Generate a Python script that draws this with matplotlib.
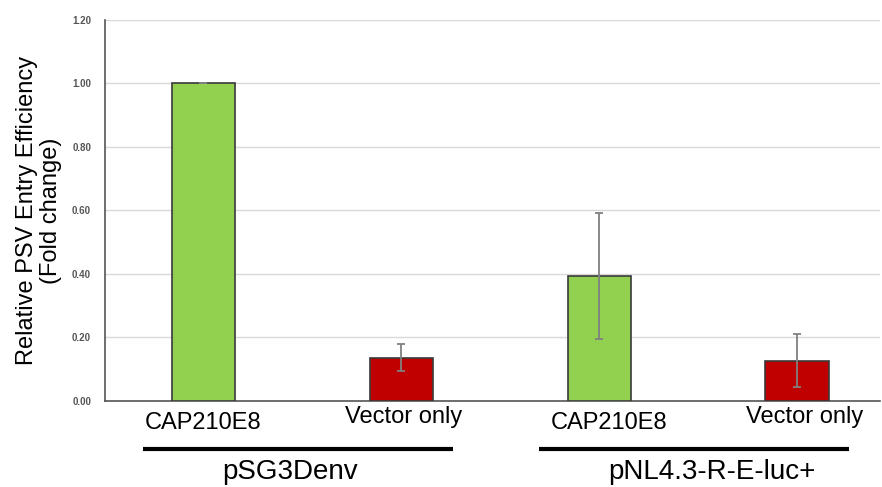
import matplotlib.pyplot as plt
from matplotlib.lines import Line2D

# Data
categories = ["CAP210E8", "Vector only", "CAP210E8", "Vector only"]
values = [1.00, 0.136, 0.394, 0.127]
errors = [0.0, 0.042, 0.198, 0.083]
colors = ["#92D050", "#C00000", "#92D050", "#C00000"]
groups = ["pSG3Denv", "pNL4.3-R-E-luc+"]
yticks = [0.0, 0.2, 0.4, 0.6, 0.8, 1.0, 1.2]

plt.rcParams['font.family'] = ['Liberation Sans', 'DejaVu Sans']

fig = plt.figure(figsize=(8.82, 4.87), dpi=100)
ax = fig.add_axes([0.119, 0.1766, 0.879, 0.7824])

x = list(range(len(categories)))
ax.bar(x, values, width=0.32, color=colors, edgecolor="#3a3a3a", linewidth=1.2, zorder=3)
ax.errorbar(x, values, yerr=errors, fmt="none", ecolor="#808080", elinewidth=1.3,
            capsize=3, capthick=1.3, zorder=4)

ax.set_xlim(-0.497, 3.42)
ax.set_ylim(0, 1.2)
ax.set_yticks(yticks)
ax.set_yticklabels([f"{v:.2f}" for v in yticks], fontsize=7, color="#555555",
                   fontweight="bold")
ax.tick_params(axis="y", length=0, pad=10)
ax.set_xticks([])
ax.grid(axis="y", color="#d9d9d9", linewidth=1, zorder=0)
for s in ["top", "right"]:
    ax.spines[s].set_visible(False)
ax.spines["left"].set_color("#555555")
ax.spines["bottom"].set_color("#555555")
ax.spines["left"].set_linewidth(1.2)
ax.spines["bottom"].set_linewidth(1.2)

ax.set_ylabel("Relative PSV Entry Efficiency\n(Fold change)", fontsize=17,
              labelpad=7, linespacing=1.12)

# Category labels under bars
trans = ax.get_xaxis_transform()
label_dx = [0.0, 0.01, 0.05, 0.04]
for i, lab in enumerate(categories):
    yy = -0.043 if lab == "Vector only" else -0.058
    ax.text(i + label_dx[i], yy, lab, transform=trans, ha="center", va="center",
            fontsize=17, clip_on=False)

# Group bars and labels
group_dx = [0.44, 0.57]
for g, name in enumerate(groups):
    start = 2 * g
    line = Line2D([start - 0.305, start + 1.26], [-0.125, -0.125], transform=trans,
                  color="black", linewidth=3, solid_capstyle="butt", clip_on=False)
    ax.add_line(line)
    ax.text(start + group_dx[g], -0.186, name, transform=trans, ha="center", va="center",
            fontsize=20, clip_on=False)

fig.savefig("out.png", dpi=100)
